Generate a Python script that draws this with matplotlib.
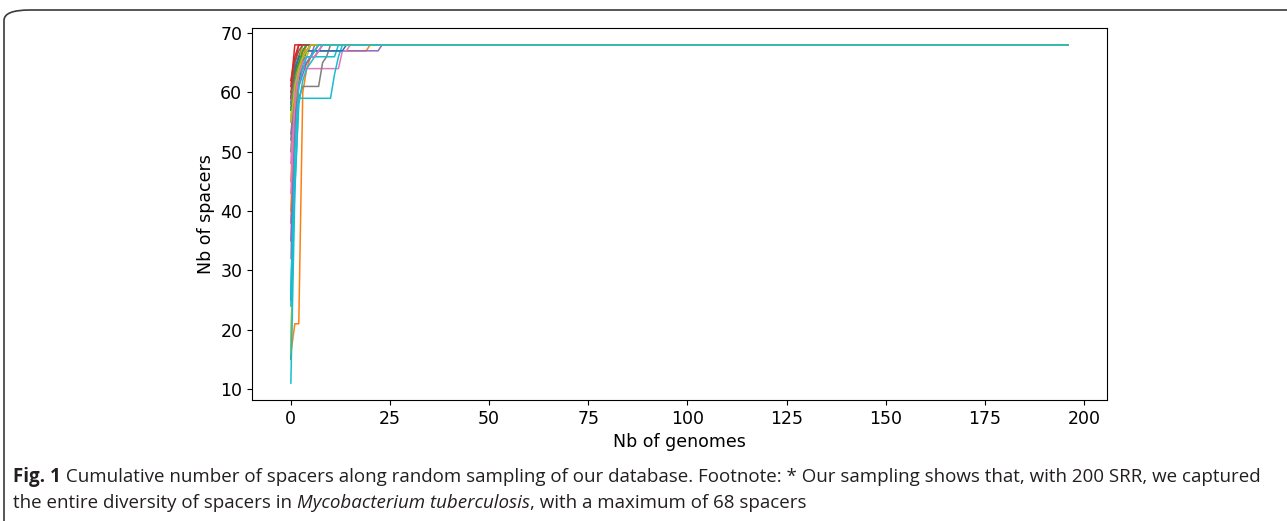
import matplotlib
matplotlib.use("Agg")
import matplotlib.pyplot as plt
from matplotlib.patches import FancyBboxPatch

N_GENOMES = 197
MAX_SPACERS = 68

# cumulative spacer counts for each random sampling run, up to the point where
# the run reaches the 68 spacer plateau (the rest of each run stays at 68)
runs = [
    [57, 63, 66, 67, 68],
    [16, 21, 21, 60, 64, 66, 67, 67, 67, 67, 67, 67, 67, 67, 67, 67, 67, 67, 67, 67, 68],
    [15, 52, 62, 65, 67, 68],
    [61, 68],
    [55, 62, 64, 66, 67, 67, 67, 67, 67, 67, 67, 67, 67, 67, 67, 67, 67, 67, 67, 67, 67, 67, 67, 68],
    [58, 63, 66, 68],
    [32, 58, 62, 64, 64, 64, 64, 64, 64, 64, 64, 64, 64, 67, 67, 68],
    [38, 55, 59, 61, 61, 61, 61, 61, 65, 66, 68],
    [16, 50, 63, 66, 66, 68],
    [11, 43, 59, 59, 59, 59, 59, 59, 59, 59, 59, 63, 66, 68],
    [25, 56, 62, 65, 66, 66, 66, 67, 68],
    [45, 60, 64, 67, 68],
    [50, 61, 65, 66, 67, 68],
    [60, 65, 68],
    [53, 60, 63, 65, 65, 66, 68],
    [59, 64, 66, 67, 68],
    [48, 62, 65, 66, 67, 67, 67, 68],
    [52, 60, 63, 64, 65, 66, 66, 67, 68],
    [56, 62, 65, 68],
    [24, 44, 58, 62, 64, 65, 66, 66, 66, 66, 66, 66, 68],
    [58, 64, 66, 66, 67, 67, 67, 67, 67, 67, 67, 67, 67, 67, 68],
    [40, 57, 63, 66, 68],
    [57, 63, 65, 67, 68],
    [62, 66, 68],
    [35, 55, 61, 63, 65, 66, 67, 68],
    [59, 65, 67, 68],
    [43, 59, 63, 65, 66, 66, 66, 67, 68],
    [58, 62, 64, 66, 67, 68],
    [55, 61, 64, 66, 67, 68],
    [26, 50, 61, 64, 66, 66, 67, 68],
]

# caption pieces: (text, weight, style)
caption_line1 = [
    ("Fig. 1", "bold", "normal"),
    (" Cumulative number of spacers along random sampling of our database. "
     "Footnote: * Our sampling shows that, with 200 SRR, we captured", "normal", "normal"),
]
caption_line2 = [
    ("the entire diversity of spacers in ", "normal", "normal"),
    ("Mycobacterium tuberculosis", "normal", "italic"),
    (", with a maximum of 68 spacers", "normal", "normal"),
]

W, H = 1287, 521
fig = plt.figure(figsize=(W / 100, H / 100), dpi=100)
ax = fig.add_axes([0.1958, 0.2322, 0.6643, 0.7141])

x = list(range(N_GENOMES))
for run in runs:
    y = run + [MAX_SPACERS] * (N_GENOMES - len(run))
    ax.plot(x, y, linewidth=1.1)

ax.set_xticks([0, 25, 50, 75, 100, 125, 150, 175, 200])
ax.set_yticks([10, 20, 30, 40, 50, 60, 70])
ax.tick_params(labelsize=12.5)
ax.set_xlabel("Nb of genomes", fontsize=12.5)
ax.set_ylabel("Nb of spacers", fontsize=12.5)

# frame around the figure panel
frame = FancyBboxPatch((4 / W, -0.2), 1.2, 1.2 - 10 / H,
                       boxstyle="round,pad=0,rounding_size=0.02",
                       transform=fig.transFigure, fill=False,
                       edgecolor="#3a3a3a", linewidth=1.2, clip_on=False)
fig.patches.append(frame)

cap_font = ["Open Sans", "DejaVu Sans"]
renderer = fig.canvas.get_renderer()
for pieces, ypix in [(caption_line1, 477), (caption_line2, 503)]:
    xpix = 13
    for txt, weight, style in pieces:
        t = fig.text(xpix / W, 1 - ypix / H, txt, fontsize=13.5, fontweight=weight,
                     fontstyle=style, family=cap_font, color="#231f20",
                     va="center", ha="left")
        xpix = t.get_window_extent(renderer).x1

fig.savefig("out.png", dpi=100)
plt.close()
